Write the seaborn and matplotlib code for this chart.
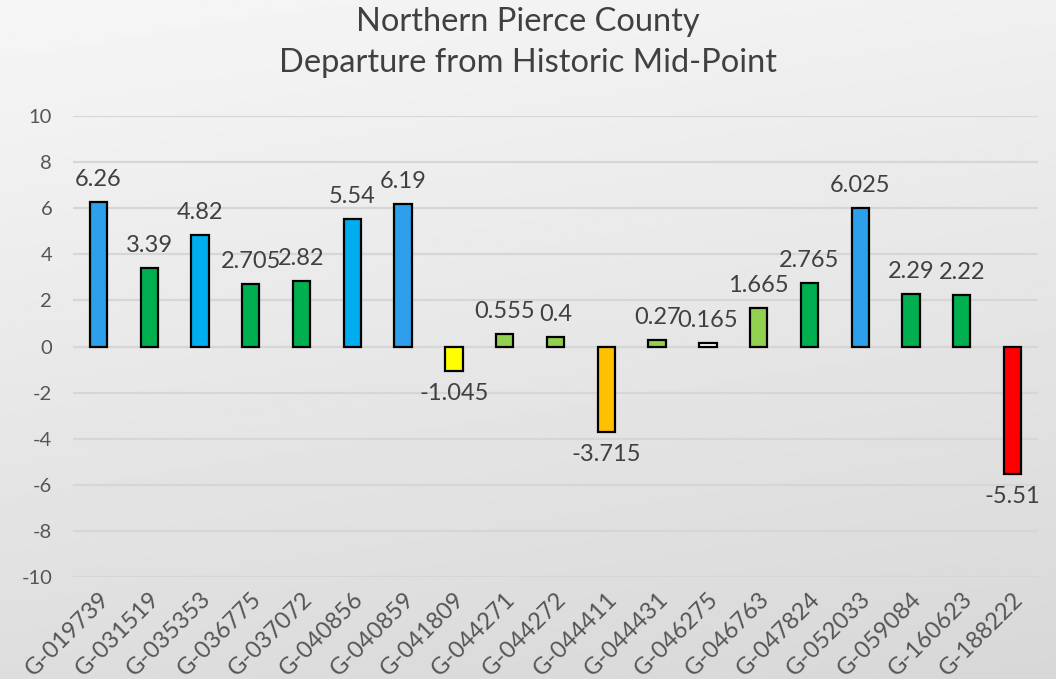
import numpy
import pandas
import seaborn
import matplotlib.pyplot as pyplot

seaborn.set_theme(style="white")
pyplot.rcParams["font.family"] = ["Lato", "DejaVu Sans"]
pyplot.rcParams["axes.unicode_minus"] = False

wells = ["G-019739", "G-031519", "G-035353", "G-036775", "G-037072", "G-040856",
         "G-040859", "G-041809", "G-044271", "G-044272", "G-044411", "G-044431",
         "G-046275", "G-046763", "G-047824", "G-052033", "G-059084", "G-160623",
         "G-188222"]
departure = [6.26, 3.39, 4.82, 2.705, 2.82, 5.54, 6.19, -1.045, 0.555, 0.4,
             -3.715, 0.27, 0.165, 1.665, 2.765, 6.025, 2.29, 2.22, -5.51]
label_text = ["6.26", "3.39", "4.82", "2.705", "2.82", "5.54", "6.19", "-1.045",
              "0.555", "0.4", "-3.715", "0.27", "0.165", "1.665", "2.765",
              "6.025", "2.29", "2.22", "-5.51"]
bar_colors = ["#2E9FEA", "#00B050", "#00AEEF", "#00B050", "#00B050", "#00AEEF",
              "#2E9FEA", "#FFFF00", "#92D050", "#92D050", "#FFC000", "#92D050",
              "#FFFFFF", "#92D050", "#00B050", "#2E9FEA", "#00B050", "#00B050",
              "#FF0000"]

df = pandas.DataFrame({"well": wells, "departure": departure})

fig = pyplot.figure(figsize=(10.56, 6.79), dpi=100)

# gradient background
bg = fig.add_axes([0, 0, 1, 1], zorder=-10)
grad = numpy.linspace(0, 1, 256).reshape(-1, 1)
xg = numpy.linspace(0, 1, 256).reshape(1, -1)
shade = 0.965 - 0.12 * (0.8 * grad + 0.2 * xg)
bg.imshow(shade, cmap="gray", vmin=0, vmax=1, aspect="auto", extent=[0, 1, 0, 1])
bg.axis("off")

ax = fig.add_axes([73 / 1056, 1 - 577 / 679, (1038 - 73) / 1056, (577 - 116) / 679])
ax.patch.set_alpha(0)

seaborn.barplot(data=df, x="well", y="departure", hue="well", palette=bar_colors,
                saturation=1, width=0.34, edgecolor="black", linewidth=1.6,
                legend=False, ax=ax, zorder=3)

ax.set_ylim(-10, 10)
ax.set_xlim(-0.5, len(wells) - 0.5)
ax.set_yticks(range(-10, 11, 2))
ax.yaxis.grid(True, color="#D6D6D6", linewidth=1.6, zorder=0)
ax.set_axisbelow(True)
for s in ax.spines.values():
    s.set_visible(False)
ax.set_xlabel("")
ax.set_ylabel("")
ax.tick_params(axis="y", length=0, pad=15, labelsize=14.5, labelcolor="#555555")
ax.tick_params(axis="x", length=0, pad=8, labelsize=17, labelcolor="#555555")
ax.set_xticks(range(len(wells)))
ax.set_xticklabels(wells, rotation=45, ha="right", va="top", rotation_mode="anchor")

for i, (v, t) in enumerate(zip(departure, label_text)):
    if v >= 0:
        ax.annotate(t, (i, v), xytext=(0, 12), textcoords="offset pixels",
                    ha="center", va="bottom", fontsize=17, color="#404040")
    else:
        ax.annotate(t, (i, v), xytext=(0, -12), textcoords="offset pixels",
                    ha="center", va="top", fontsize=17, color="#404040")

fig.text(0.5, 1 - 22 / 679, "Northern Pierce County", ha="center", va="center",
         fontsize=23.5, color="#404040")
fig.text(0.5, 1 - 63 / 679, "Departure from Historic Mid-Point", ha="center",
         va="center", fontsize=23.5, color="#404040")

fig.savefig("out.png", dpi=100)
